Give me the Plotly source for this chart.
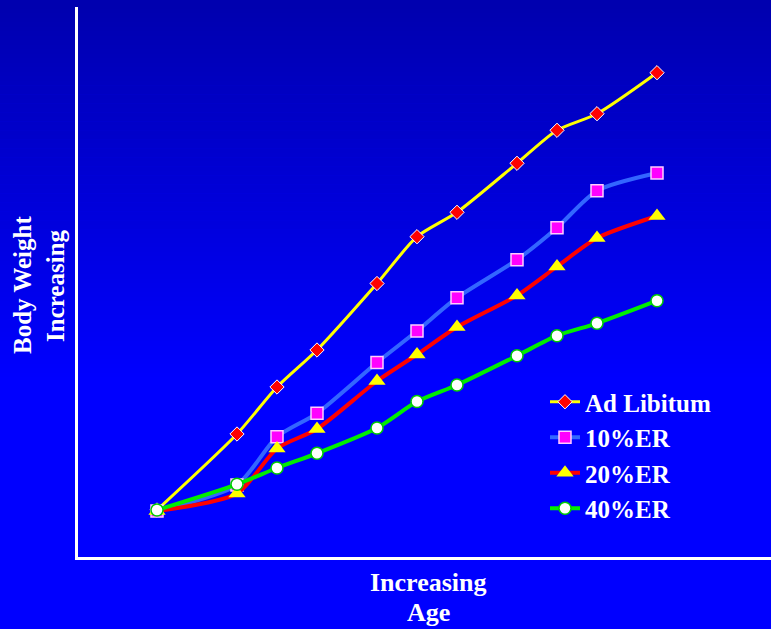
import plotly.graph_objects as go

# Age index (weeks on a common grid) at which each group was weighed
age = [0, 4, 6, 8, 11, 13, 15, 18, 20, 22, 25]

# Relative body weight (arbitrary units) for each feeding regime
ad_libitum = [47, 123, 170, 207, 273.5, 320.3, 344.7, 393.7, 426.7, 443.3, 484.3]
er_10 = [46, 72, 120.3, 143.7, 194.5, 226, 259.3, 297.3, 329.3, 366.3, 384]
er_20 = [46, 63.5, 108.5, 128, 176, 202.5, 230, 261.5, 290.5, 319, 341]
er_40 = [47, 72.7, 89, 103.7, 129, 155.5, 172, 201.3, 221.3, 233.7, 256.3]

series_names = ["Ad Libitum", "10%ER", "20%ER", "40%ER"]

W, H = 771, 629
ML, MR, MT, MB = 78, 0, 7, 72
plot_w = W - ML - MR
plot_h = H - MT - MB


def px_x(px):
    return (px - ML) / plot_w


def px_y(py):
    return (H - MB - py) / plot_h


fig = go.Figure()

styles = [
    dict(line=dict(color="#FFFF00", width=3),
         marker=dict(symbol="diamond", size=11, color="#FF0000",
                     line=dict(color="#FFFFFF", width=1))),
    dict(line=dict(color="#3366FF", width=4),
         marker=dict(symbol="square", size=12, color="#FF00FF",
                     line=dict(color="#FFCCFF", width=1.5))),
    dict(line=dict(color="#FF0000", width=4),
         marker=dict(symbol="triangle-up", size=15, color="#FFFF00",
                     line=dict(color="#FFFF00", width=0))),
    dict(line=dict(color="#00EE00", width=4),
         marker=dict(symbol="circle", size=12, color="#FFFFFF",
                     line=dict(color="#00CC00", width=1.5))),
]

for name, ys, st in zip(series_names, [ad_libitum, er_10, er_20, er_40], styles):
    fig.add_trace(go.Scatter(
        x=age, y=ys, name=name, mode="lines+markers",
        line=dict(shape="spline", smoothing=0.7, **st["line"]),
        marker=st["marker"], legendgroup=name,
    ))

# Vertical blue gradient behind the whole figure
shapes = []
n_bands = 140
for i in range(n_bands):
    py0 = H * i / n_bands
    py1 = H * (i + 1) / n_bands + 0.5
    mid = (py0 + py1) / 2
    t = min(mid / 380.0, 1.0)
    b = int(round(174 + (255 - 174) * t))
    shapes.append(dict(
        type="rect", xref="paper", yref="paper", layer="below",
        x0=-ML / plot_w, x1=1.0 + 0.01,
        y0=px_y(py1), y1=px_y(py0),
        line=dict(width=0), fillcolor=f"rgb(0,0,{b})",
    ))

font_serif = "Liberation Serif, Times New Roman, serif"


def label(text, x, y, size, angle=0):
    return dict(text=f"<b>{text}</b>", xref="paper", yref="paper",
                x=px_x(x), y=px_y(y), xanchor="center", yanchor="middle",
                showarrow=False, textangle=angle,
                font=dict(family=font_serif, size=size, color="white"))


annotations = [
    label("Increasing", 428, 582, 26),
    label("Age", 428, 612, 26),
    label("Body Weight", 23, 285, 25, -90),
    label("Increasing", 55, 286, 25, -90),
]

fig.update_layout(
    width=W, height=H,
    margin=dict(l=ML, r=MR, t=MT, b=MB),
    paper_bgcolor="#0000FF", plot_bgcolor="rgba(0,0,0,0)",
    shapes=shapes, annotations=annotations,
    showlegend=True,
    legend=dict(
        x=px_x(545), y=px_y(379),
        xanchor="left", yanchor="top",
        bgcolor="rgba(0,0,0,0)", borderwidth=0,
        font=dict(family=font_serif, size=25, color="white", weight="bold"),
        tracegroupgap=12, traceorder="normal",
    ),
    font=dict(family=font_serif, color="white"),
)

fig.update_xaxes(range=[(ML - 157) / 20, (W - 157) / 20], showgrid=False,
                 zeroline=False, showticklabels=False, ticks="",
                 showline=True, linecolor="white", linewidth=3)
fig.update_yaxes(range=[0, plot_h], showgrid=False, zeroline=False,
                 showticklabels=False, ticks="",
                 showline=True, linecolor="white", linewidth=3)

fig.write_html("out.html")
